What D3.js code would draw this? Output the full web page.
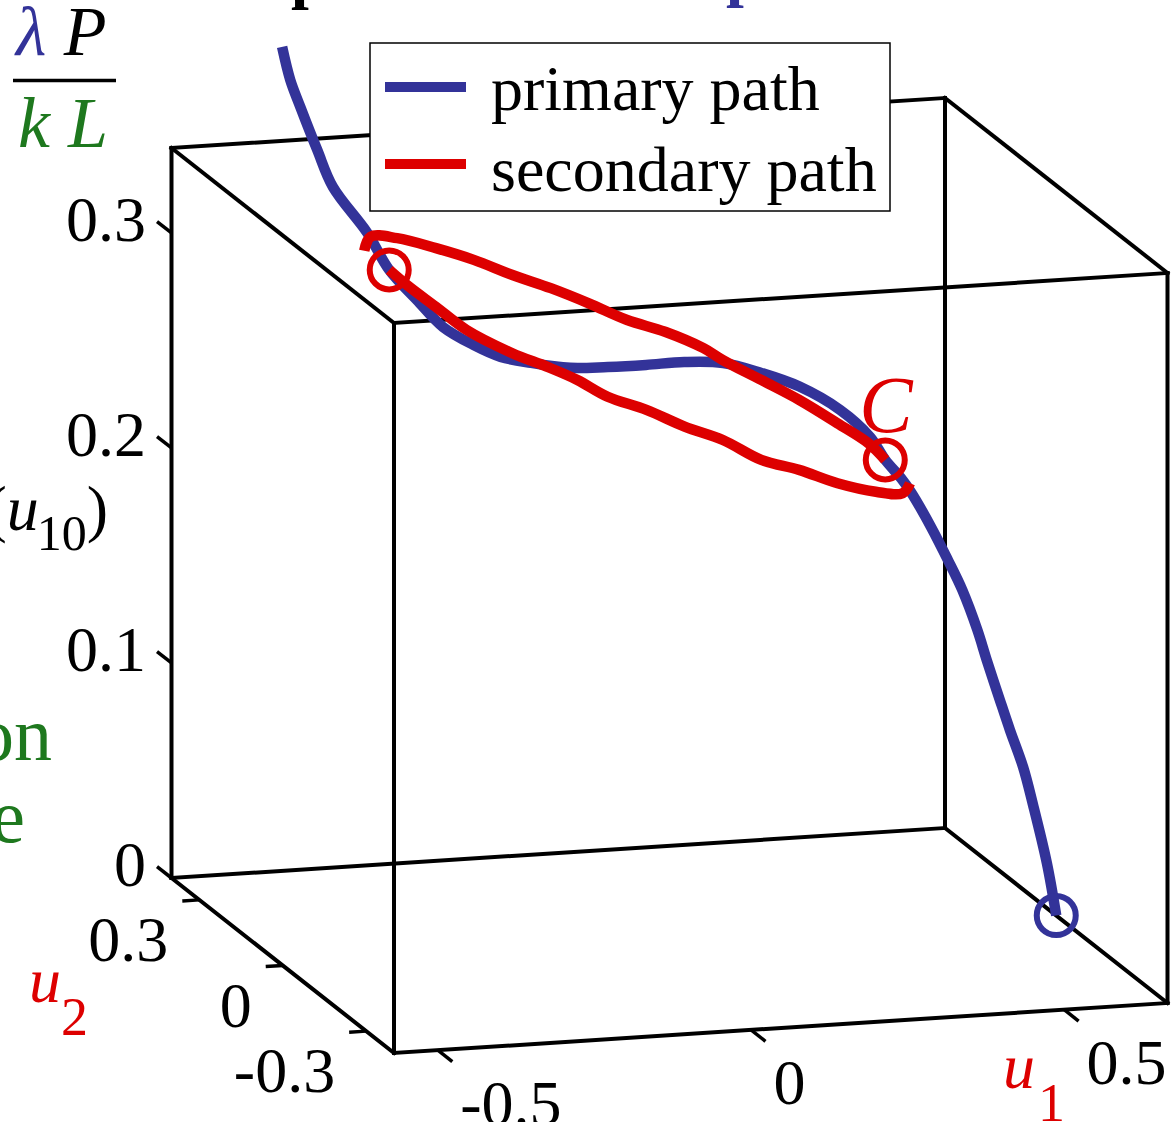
<!DOCTYPE html>
<html>
<head>
<meta charset="utf-8">
<script src="https://cdn.jsdelivr.net/npm/d3@7"></script>
<style>
  body { margin: 0; background: #fff; }
  text { font-family: "Liberation Serif", "Times New Roman", serif; }
</style>
</head>
<body>
<script>
// axis limits and ticks
var u1Domain = [-0.57, 0.665];
var u2Domain = [-0.4, 0.4];
var zDomain = [0, 0.3395];
var u1Ticks = [-0.5, 0, 0.5];
var u2Ticks = [-0.3, 0, 0.3];
var zTicks = [0, 0.1, 0.2, 0.3];
var legendLabels = ["primary path", "secondary path"];

// [u1, u2, lambda P / kL]
var primaryPath = [
  [0.665, 0, 0.0000], [0.650, 0, 0.0247], [0.628, 0, 0.0521], [0.612, 0, 0.0701],
  [0.591, 0, 0.0877], [0.575, 0, 0.1019], [0.554, 0, 0.1209], [0.539, 0, 0.1352],
  [0.515, 0, 0.1542], [0.492, 0, 0.1686], [0.465, 0, 0.1845], [0.433, 0, 0.2013],
  [0.417, 0, 0.2081], [0.392, 0, 0.2170], [0.368, 0, 0.2281], [0.320, 0, 0.2416],
  [0.255, 0, 0.2537], [0.194, 0, 0.2612], [0.133, 0, 0.2670], [0.071, 0, 0.2686],
  [0.010, 0, 0.2684], [-0.051, 0, 0.2686], [-0.111, 0, 0.2693], [-0.174, 0, 0.2728],
  [-0.222, 0, 0.2765], [-0.265, 0, 0.2828], [-0.314, 0, 0.2921], [-0.356, 0, 0.3055],
  [-0.400, 0, 0.3203], [-0.435, 0, 0.3382], [-0.490, 0, 0.3606], [-0.515, 0, 0.3783],
  [-0.542, 0, 0.3988], [-0.558, 0, 0.4116], [-0.571, 0, 0.4272]
];
var secondaryUpper = [
  [-0.431, 0.02, 0.3277], [-0.403, 0.06, 0.3297], [-0.334, 0.12, 0.3216], [-0.241, 0.19, 0.3081],
  [-0.154, 0.25, 0.2949], [-0.070, 0.30, 0.2812], [0.009, 0.34, 0.2695], [0.083, 0.37, 0.2580],
  [0.153, 0.39, 0.2469], [0.218, 0.40, 0.2392], [0.275, 0.39, 0.2315], [0.297, 0.37, 0.2276],
  [0.336, 0.32, 0.2227], [0.361, 0.24, 0.2211], [0.382, 0.15, 0.2190], [0.396, 0.07, 0.2176],
  [0.392, 0.00, 0.2170]
];
var secondaryLower = [
  [-0.400, 0.00, 0.3203], [-0.395, -0.06, 0.3185], [-0.379, -0.12, 0.3150], [-0.361, -0.19, 0.3110],
  [-0.319, -0.26, 0.3065], [-0.286, -0.31, 0.3047], [-0.255, -0.35, 0.3020], [-0.220, -0.38, 0.2966],
  [-0.167, -0.40, 0.2915], [-0.106, -0.40, 0.2826], [-0.036, -0.38, 0.2730], [0.043, -0.34, 0.2582],
  [0.130, -0.28, 0.2458], [0.227, -0.20, 0.2296], [0.328, -0.11, 0.2146], [0.402, -0.04, 0.2054],
  [0.427, -0.01, 0.2065]
];
var startPoint = [[0.665, 0, 0]];
var bifurcationPoints = [[-0.400, 0, 0.3203], [0.392, 0, 0.2170]];

var blue = "#333399", red = "#dd0000", green = "#1e781e";

var svg = d3.select("body").append("svg")
  .attr("width", 1176)
  .attr("height", 1122);

// box edges on screen: origin is (u1 min, u2 min, z min)
var origin = [394, 1053], e1 = [773.5, -50], e2 = [-222.5, -175], e3 = [0, -730];
var s1 = d3.scaleLinear().domain(u1Domain).range([0, 1]);
var s2 = d3.scaleLinear().domain(u2Domain).range([0, 1]);
var s3 = d3.scaleLinear().domain(zDomain).range([0, 1]);

function project(p) {
  var a = s1(p[0]), b = s2(p[1]), c = s3(p[2]);
  return [origin[0] + a * e1[0] + b * e2[0] + c * e3[0],
          origin[1] + a * e1[1] + b * e2[1] + c * e3[1]];
}

// box
var doms = [u1Domain, u2Domain, zDomain];
var edges = [];
for (var axis = 0; axis < 3; axis++) {
  [0, 1].forEach(function(i) {
    [0, 1].forEach(function(j) {
      var a = [0, 0, 0], b = [0, 0, 0], k = 0;
      for (var d = 0; d < 3; d++) {
        if (d === axis) { a[d] = doms[d][0]; b[d] = doms[d][1]; }
        else { var v = (k === 0 ? i : j); a[d] = doms[d][v]; b[d] = doms[d][v]; k++; }
      }
      edges.push([project(a), project(b)]);
    });
  });
}
svg.append("g").selectAll("line")
  .data(edges)
  .enter().append("line")
  .attr("x1", function(d) { return d[0][0]; })
  .attr("y1", function(d) { return d[0][1]; })
  .attr("x2", function(d) { return d[1][0]; })
  .attr("y2", function(d) { return d[1][1]; })
  .attr("stroke", "#000")
  .attr("stroke-width", 4)
  .attr("stroke-linecap", "square");

// ticks
var ticks = [];
zTicks.forEach(function(t) {
  var p = project([u1Domain[0], u2Domain[1], t]);
  var q = [p[0] + 0.065 * e2[0], p[1] + 0.065 * e2[1]];
  ticks.push({p: p, q: q, label: String(t), x: q[0] - 11, y: q[1] + 19, anchor: "end"});
});
u2Ticks.forEach(function(t) {
  var p = project([u1Domain[0], t, 0]);
  var q = [p[0] - 0.022 * e1[0], p[1] - 0.022 * e1[1]];
  ticks.push({p: p, q: q, label: String(t), x: q[0] - 14, y: q[1] + 60, anchor: "end"});
});
u1Ticks.forEach(function(t) {
  var p = project([t, u2Domain[0], 0]);
  var q = [p[0] - 0.065 * e2[0], p[1] - 0.065 * e2[1]];
  ticks.push({p: p, q: q, label: String(t), x: q[0] + 8, y: q[1] + 63, anchor: "start"});
});
var tg = svg.append("g").selectAll("g").data(ticks).enter().append("g");
tg.append("line")
  .attr("x1", function(d) { return d.p[0]; })
  .attr("y1", function(d) { return d.p[1]; })
  .attr("x2", function(d) { return d.q[0]; })
  .attr("y2", function(d) { return d.q[1]; })
  .attr("stroke", "#000")
  .attr("stroke-width", 3.5);
tg.append("text")
  .attr("x", function(d) { return d.x; })
  .attr("y", function(d) { return d.y; })
  .attr("text-anchor", function(d) { return d.anchor; })
  .attr("font-size", 64)
  .text(function(d) { return d.label; });

// paths
var line = d3.line()
  .x(function(d) { return project(d)[0]; })
  .y(function(d) { return project(d)[1]; })
  .curve(d3.curveCatmullRom.alpha(0.5));

svg.append("path")
  .attr("d", line(primaryPath))
  .attr("fill", "none")
  .attr("stroke", blue)
  .attr("stroke-width", 10.5)
  .attr("stroke-linejoin", "round");

[secondaryUpper, secondaryLower].forEach(function(branch) {
  svg.append("path")
    .attr("d", line(branch))
    .attr("fill", "none")
    .attr("stroke", red)
    .attr("stroke-width", 10.5)
    .attr("stroke-linejoin", "round");
});

svg.selectAll("circle.start")
  .data(startPoint)
  .enter().append("circle")
  .attr("cx", function(d) { return project(d)[0]; })
  .attr("cy", function(d) { return project(d)[1]; })
  .attr("r", 19.5)
  .attr("fill", "none")
  .attr("stroke", blue)
  .attr("stroke-width", 6);

svg.selectAll("circle.bif")
  .data(bifurcationPoints)
  .enter().append("circle")
  .attr("cx", function(d) { return project(d)[0]; })
  .attr("cy", function(d) { return project(d)[1]; })
  .attr("r", 19.5)
  .attr("fill", "none")
  .attr("stroke", red)
  .attr("stroke-width", 6);

var cPos = project(bifurcationPoints[1]);
svg.append("text")
  .attr("x", cPos[0] - 26)
  .attr("y", cPos[1] - 28)
  .attr("font-size", 80)
  .attr("font-style", "italic")
  .attr("fill", red)
  .text("C");

// axis labels
svg.append("text").attr("x", 1003).attr("y", 1088).attr("font-size", 64)
  .attr("font-style", "italic").attr("fill", red).text("u");
svg.append("text").attr("x", 1038).attr("y", 1121).attr("font-size", 54)
  .attr("fill", red).text("1");
svg.append("text").attr("x", 29).attr("y", 1002).attr("font-size", 64)
  .attr("font-style", "italic").attr("fill", red).text("u");
svg.append("text").attr("x", 61).attr("y", 1035).attr("font-size", 54)
  .attr("fill", red).text("2");

var lam = svg.append("text").attr("x", 16).attr("y", 55).attr("font-size", 70)
  .attr("font-style", "italic");
lam.append("tspan").attr("fill", blue).text("λ");
lam.append("tspan").attr("fill", "#000").text(" P");
svg.append("line").attr("x1", 13).attr("x2", 116).attr("y1", 80.5).attr("y2", 80.5)
  .attr("stroke", "#000").attr("stroke-width", 3.5);
svg.append("text").attr("x", 18).attr("y", 147).attr("font-size", 72)
  .attr("font-style", "italic").attr("fill", green).text("k L");

var uz = svg.append("text").attr("x", 108).attr("y", 530).attr("font-size", 64)
  .attr("text-anchor", "end");
uz.append("tspan").text("(");
uz.append("tspan").attr("font-style", "italic").text("u");
uz.append("tspan").attr("font-size", 50).attr("dx", -2).attr("dy", 20).text("10");
uz.append("tspan").attr("dy", -20).text(")");

svg.append("text").attr("x", 52).attr("y", 760).attr("font-size", 76)
  .attr("text-anchor", "end").attr("fill", green).text("on");
svg.append("text").attr("x", 25).attr("y", 842).attr("font-size", 76)
  .attr("text-anchor", "end").attr("fill", green).text("e");

// title (cut off above the picture)
svg.append("text").attr("x", 291).attr("y", -4).attr("font-size", 64)
  .attr("font-weight", "bold").attr("fill", "#000").text("p");
svg.append("text").attr("x", 726).attr("y", -6).attr("font-size", 64)
  .attr("font-weight", "bold").attr("fill", blue).text("p");

// legend
var legend = svg.append("g");
legend.append("rect")
  .attr("x", 370).attr("y", 43).attr("width", 520).attr("height", 168)
  .attr("fill", "#fff").attr("stroke", "#000").attr("stroke-width", 1.5);
var li = legend.selectAll("g.item")
  .data(legendLabels)
  .enter().append("g");
li.append("line")
  .attr("x1", 385).attr("x2", 466)
  .attr("y1", function(d, i) { return 87 + i * 77; })
  .attr("y2", function(d, i) { return 87 + i * 77; })
  .attr("stroke", function(d, i) { return i === 0 ? blue : red; })
  .attr("stroke-width", 10);
li.append("text")
  .attr("x", 491)
  .attr("y", function(d, i) { return 110 + i * 81; })
  .attr("font-size", 64)
  .text(function(d) { return d; });
</script>
</body>
</html>
